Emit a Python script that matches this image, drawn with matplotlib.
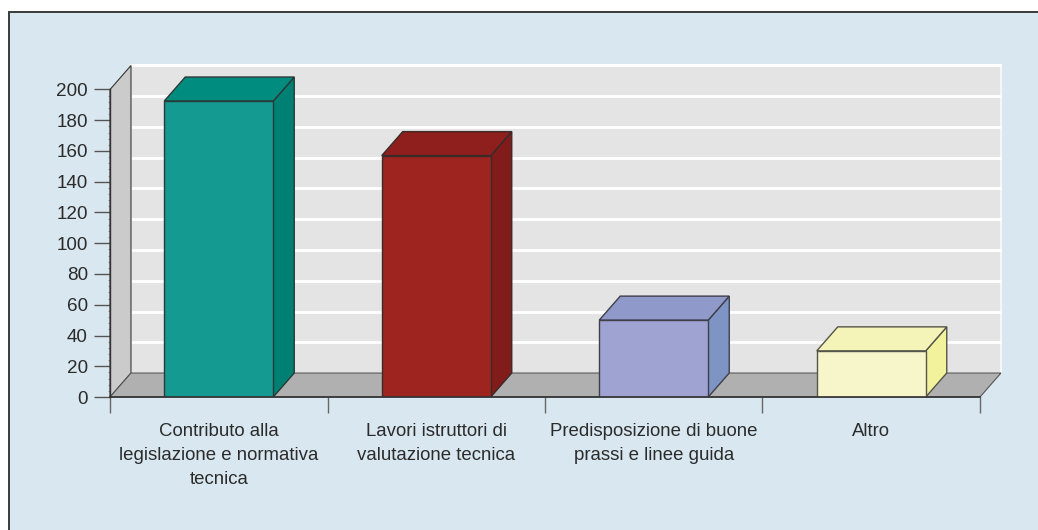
import matplotlib
matplotlib.use("Agg")
from matplotlib import pyplot as plt
from matplotlib.patches import Polygon, Rectangle

categories = ["Contributo alla\nlegislazione e normativa\ntecnica",
	"Lavori istruttori di\nvalutazione tecnica",
	"Predisposizione di buone\nprassi e linee guida",
	"Altro"]
values = [192.5, 157, 50, 30]
front_colors = ["#159a92", "#9e2420", "#9fa3d2", "#f7f6cb"]
top_colors = ["#008c7e", "#8e1f1c", "#8f9acb", "#f4f4b8"]
side_colors = ["#008073", "#821c1a", "#7d94c4", "#f2f19c"]
edge_colors = ["#2a3a38", "#3a2a2a", "#3f3f4a", "#55554a"]
y_ticks = list(range(0, 220, 20))

W, H = 1038, 530
X0, X1 = 110, 980	# front plane, pixels
Y0, Y200 = 397, 89.5
DX_PX, DY_PX = 21, 24
dx = DX_PX/((X1-X0)/4)	# depth in data units
dy = DY_PX/((Y0-Y200)/200)
bar_w = 109/((X1-X0)/4)
edge = "#333333"
txt = "#2b2b2b"

plt.rcParams["font.family"] = ["Liberation Sans", "DejaVu Sans"]
fig = plt.figure(figsize=(W/100, H/100), dpi=100, facecolor="white")

# panel behind the chart
fig.add_artist(Rectangle((9/W, -0.01), (W-9)/W+0.01, (H-12)/H+0.01, transform=fig.transFigure,
	facecolor="#d9e8f0", edgecolor="#3a3a3a", linewidth=1.4, zorder=-1))

ax = fig.add_axes([X0/W, (H-Y0)/H, (X1-X0)/W, (Y0-Y200)/H])
ax.patch.set_alpha(0)
ax.set_xlim(0, 4)
ax.set_ylim(0, 200)
for s in ["top", "right", "bottom"]:
	ax.spines[s].set_visible(False)
ax.spines["left"].set_color(edge)
ax.spines["left"].set_linewidth(1)

def poly(pts, fc, ec="none", lw=0.0, z=1):
	ax.add_patch(Polygon(pts, closed=True, facecolor=fc, edgecolor=ec, linewidth=lw, zorder=z, clip_on=False))

# walls and floor
poly([(dx, dy), (4+dx, dy), (4+dx, 200+dy), (dx, 200+dy)], "#e4e4e4", ec="#f4f6f7", lw=1.5, z=1)
poly([(0, 0), (dx, dy), (dx, 200+dy), (0, 200)], "#cbcbcb", ec=edge, lw=0.8, z=2)
poly([(0, 0), (4, 0), (4+dx, dy), (dx, dy)], "#b0b0b0", ec="#555555", lw=0.8, z=2)
for v in y_ticks[1:]:
	ax.plot([dx, 4+dx], [v+dy, v+dy], color="white", lw=2, zorder=1.5, clip_on=False, solid_capstyle="butt")

# bars
for i, v in enumerate(values):
	a = i+0.5-bar_w/2
	b = i+0.5+bar_w/2
	poly([(b, 0), (b+dx, dy), (b+dx, v+dy), (b, v)], side_colors[i], ec=edge_colors[i], lw=1, z=3)
	poly([(a, v), (b, v), (b+dx, v+dy), (a+dx, v+dy)], top_colors[i], ec=edge_colors[i], lw=1, z=3)
	ax.bar(i+0.5, v, width=bar_w, color=front_colors[i], edgecolor=edge_colors[i], linewidth=1, zorder=4)

ax.plot([0, 4], [0, 0], color=edge, lw=1.2, zorder=5, clip_on=False)

ax.set_yticks(y_ticks)
ax.set_yticks([v for v in range(0, 201, 4) if v % 20], minor=True)
ax.tick_params(axis="y", which="major", length=11.5, width=1, color="#555555", labelsize=13.6, labelcolor=txt, pad=4.5)
ax.tick_params(axis="y", which="minor", length=1.2, width=0.5, color="#777777", direction="out")
ax.set_xticks([0, 1, 2, 3, 4])
ax.set_xticklabels([])
ax.tick_params(axis="x", which="major", length=11.5, width=1, color="#666666")
ax.set_xticks([0.5, 1.5, 2.5, 3.5], minor=True)
ax.set_xticklabels(categories, minor=True, fontsize=13.4, color=txt, linespacing=1.55)
ax.tick_params(axis="x", which="minor", length=0, pad=18.5)

fig.savefig("out.png", dpi=100)
